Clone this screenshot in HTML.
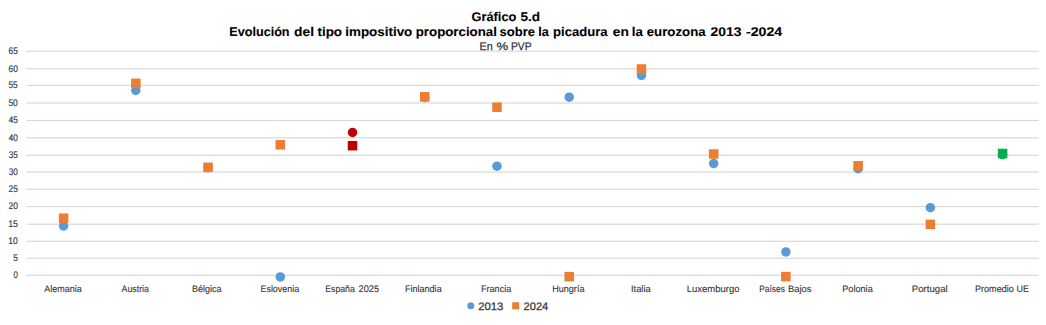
<!DOCTYPE html>
<html><head><meta charset="utf-8"><title>Gráfico 5.d</title>
<style>
html,body{margin:0;padding:0;background:#fff;width:1046px;height:325px;overflow:hidden}
svg{display:block}
text{font-family:"Liberation Sans",sans-serif;text-rendering:geometricPrecision}
.ax{font-size:9.6px;fill:#333;stroke:#333;stroke-width:0.15px}
.cat{font-size:9.5px;fill:#333;stroke:#333;stroke-width:0.1px}
.t1{font-size:12.6px;font-weight:bold;fill:#000;stroke:#000;stroke-width:0.1px}
.t2{font-size:11px;fill:#333;stroke:#333;stroke-width:0.25px}
.lg{font-size:10.8px;fill:#333;stroke:#333;stroke-width:0.25px}

</style></head><body>
<svg width="1046" height="325" viewBox="0 0 1046 325">
<rect width="1046" height="325" fill="#fff"/>
<rect x="26.5" y="274.70" width="1012.3" height="1.2" fill="#D9D9D9"/>
<rect x="26.5" y="257.60" width="1012.3" height="1.2" fill="#D9D9D9"/>
<rect x="26.5" y="240.70" width="1012.3" height="1.2" fill="#D9D9D9"/>
<rect x="26.5" y="223.60" width="1012.3" height="1.2" fill="#D9D9D9"/>
<rect x="26.5" y="206.00" width="1012.3" height="1.2" fill="#D9D9D9"/>
<rect x="26.5" y="188.70" width="1012.3" height="1.2" fill="#D9D9D9"/>
<rect x="26.5" y="171.50" width="1012.3" height="1.2" fill="#D9D9D9"/>
<rect x="26.5" y="154.70" width="1012.3" height="1.2" fill="#D9D9D9"/>
<rect x="26.5" y="137.20" width="1012.3" height="1.2" fill="#D9D9D9"/>
<rect x="26.5" y="119.90" width="1012.3" height="1.2" fill="#D9D9D9"/>
<rect x="26.5" y="102.40" width="1012.3" height="1.2" fill="#D9D9D9"/>
<rect x="26.5" y="84.80" width="1012.3" height="1.2" fill="#D9D9D9"/>
<rect x="26.5" y="68.20" width="1012.3" height="1.2" fill="#D9D9D9"/>
<rect x="26.5" y="50.60" width="1012.3" height="1.2" fill="#D9D9D9"/>
<text x="471.50" y="20.7" class="t1" textLength="44.84" lengthAdjust="spacingAndGlyphs">Gráfico</text>
<text x="520.50" y="20.7" class="t1" textLength="19.63" lengthAdjust="spacingAndGlyphs">5.d</text>
<text x="229.25" y="36.0" class="t1" textLength="60.34" lengthAdjust="spacingAndGlyphs">Evolución</text>
<text x="294.00" y="36.0" class="t1" textLength="19.98" lengthAdjust="spacingAndGlyphs">del</text>
<text x="317.50" y="36.0" class="t1" textLength="24.56" lengthAdjust="spacingAndGlyphs">tipo</text>
<text x="345.25" y="36.0" class="t1" textLength="67.07" lengthAdjust="spacingAndGlyphs">impositivo</text>
<text x="415.75" y="36.0" class="t1" textLength="81.10" lengthAdjust="spacingAndGlyphs">proporcional</text>
<text x="499.50" y="36.0" class="t1" textLength="35.43" lengthAdjust="spacingAndGlyphs">sobre</text>
<text x="538.25" y="36.0" class="t1" textLength="10.58" lengthAdjust="spacingAndGlyphs">la</text>
<text x="553.00" y="36.0" class="t1" textLength="54.65" lengthAdjust="spacingAndGlyphs">picadura</text>
<text x="612.75" y="36.0" class="t1" textLength="16.16" lengthAdjust="spacingAndGlyphs">en</text>
<text x="631.75" y="36.0" class="t1" textLength="11.06" lengthAdjust="spacingAndGlyphs">la</text>
<text x="646.75" y="36.0" class="t1" textLength="58.84" lengthAdjust="spacingAndGlyphs">eurozona</text>
<text x="710.50" y="36.0" class="t1" textLength="30.92" lengthAdjust="spacingAndGlyphs">2013</text>
<text x="746.00" y="36.0" class="t1" textLength="36.20" lengthAdjust="spacingAndGlyphs">-2024</text>
<text x="479.50" y="49.9" class="t2" textLength="13.24" lengthAdjust="spacingAndGlyphs">En</text>
<text x="496.50" y="49.9" class="t2" textLength="11.64" lengthAdjust="spacingAndGlyphs">%</text>
<text x="511.00" y="49.9" class="t2" textLength="20.45" lengthAdjust="spacingAndGlyphs">PVP</text>
<text x="44.25" y="291.7" class="cat" textLength="37.43" lengthAdjust="spacingAndGlyphs">Alemania</text>
<text x="121.50" y="291.7" class="cat" textLength="27.47" lengthAdjust="spacingAndGlyphs">Austria</text>
<text x="192.00" y="291.7" class="cat" textLength="29.66" lengthAdjust="spacingAndGlyphs">Bélgica</text>
<text x="260.50" y="291.7" class="cat" textLength="38.63" lengthAdjust="spacingAndGlyphs">Eslovenia</text>
<text x="325.25" y="291.7" class="cat" textLength="29.50" lengthAdjust="spacingAndGlyphs">España</text>
<text x="358.50" y="291.7" class="cat" textLength="20.61" lengthAdjust="spacingAndGlyphs">2025</text>
<text x="405.00" y="291.7" class="cat" textLength="36.66" lengthAdjust="spacingAndGlyphs">Finlandia</text>
<text x="481.00" y="291.7" class="cat" textLength="30.24" lengthAdjust="spacingAndGlyphs">Francia</text>
<text x="552.25" y="291.7" class="cat" textLength="32.19" lengthAdjust="spacingAndGlyphs">Hungría</text>
<text x="631.00" y="291.7" class="cat" textLength="19.65" lengthAdjust="spacingAndGlyphs">Italia</text>
<text x="686.75" y="291.7" class="cat" textLength="52.69" lengthAdjust="spacingAndGlyphs">Luxemburgo</text>
<text x="759.25" y="291.7" class="cat" textLength="25.65" lengthAdjust="spacingAndGlyphs">Países</text>
<text x="788.00" y="291.7" class="cat" textLength="23.36" lengthAdjust="spacingAndGlyphs">Bajos</text>
<text x="842.25" y="291.7" class="cat" textLength="30.49" lengthAdjust="spacingAndGlyphs">Polonia</text>
<text x="911.75" y="291.7" class="cat" textLength="35.95" lengthAdjust="spacingAndGlyphs">Portugal</text>
<text x="975.00" y="291.7" class="cat" textLength="38.77" lengthAdjust="spacingAndGlyphs">Promedio</text>
<text x="1016.50" y="291.7" class="cat" textLength="12.49" lengthAdjust="spacingAndGlyphs">UE</text>
<text x="478.25" y="309.8" class="lg" textLength="25.17" lengthAdjust="spacingAndGlyphs">2013</text>
<text x="523.50" y="309.8" class="lg" textLength="24.77" lengthAdjust="spacingAndGlyphs">2024</text>
<text x="13.50" y="278.00" class="ax" textLength="4.35" lengthAdjust="spacingAndGlyphs">0</text>
<text x="13.25" y="260.90" class="ax" textLength="4.67" lengthAdjust="spacingAndGlyphs">5</text>
<text x="8.25" y="244.00" class="ax" textLength="9.56" lengthAdjust="spacingAndGlyphs">10</text>
<text x="8.25" y="226.90" class="ax" textLength="9.64" lengthAdjust="spacingAndGlyphs">15</text>
<text x="8.50" y="209.30" class="ax" textLength="9.40" lengthAdjust="spacingAndGlyphs">20</text>
<text x="8.50" y="192.00" class="ax" textLength="9.37" lengthAdjust="spacingAndGlyphs">25</text>
<text x="8.75" y="174.80" class="ax" textLength="9.09" lengthAdjust="spacingAndGlyphs">30</text>
<text x="8.75" y="158.00" class="ax" textLength="9.08" lengthAdjust="spacingAndGlyphs">35</text>
<text x="8.75" y="140.50" class="ax" textLength="9.20" lengthAdjust="spacingAndGlyphs">40</text>
<text x="8.75" y="123.20" class="ax" textLength="9.13" lengthAdjust="spacingAndGlyphs">45</text>
<text x="8.50" y="105.70" class="ax" textLength="9.24" lengthAdjust="spacingAndGlyphs">50</text>
<text x="8.50" y="88.10" class="ax" textLength="9.24" lengthAdjust="spacingAndGlyphs">55</text>
<text x="8.50" y="71.50" class="ax" textLength="9.40" lengthAdjust="spacingAndGlyphs">60</text>
<text x="8.50" y="53.90" class="ax" textLength="9.37" lengthAdjust="spacingAndGlyphs">65</text>
<circle cx="63.60" cy="226.00" r="4.75" fill="#5B9BD5"/>
<rect x="58.85" y="213.45" width="9.5" height="9.5" fill="#ED7D31"/>
<circle cx="135.83" cy="90.50" r="4.75" fill="#5B9BD5"/>
<rect x="131.08" y="78.55" width="9.5" height="9.5" fill="#ED7D31"/>
<circle cx="208.06" cy="167.70" r="4.75" fill="#5B9BD5"/>
<rect x="203.31" y="162.55" width="9.5" height="9.5" fill="#ED7D31"/>
<circle cx="280.29" cy="276.90" r="4.75" fill="#5B9BD5"/>
<rect x="275.54" y="140.05" width="9.5" height="9.5" fill="#ED7D31"/>
<circle cx="352.52" cy="132.50" r="4.75" fill="#C00000"/>
<rect x="347.77" y="140.95" width="9.5" height="9.5" fill="#C00000"/>
<circle cx="424.75" cy="97.50" r="4.75" fill="#5B9BD5"/>
<rect x="420.00" y="92.05" width="9.5" height="9.5" fill="#ED7D31"/>
<circle cx="496.98" cy="166.20" r="4.75" fill="#5B9BD5"/>
<rect x="492.23" y="102.45" width="9.5" height="9.5" fill="#ED7D31"/>
<circle cx="569.21" cy="97.20" r="4.75" fill="#5B9BD5"/>
<rect x="564.46" y="271.95" width="9.5" height="9.5" fill="#ED7D31"/>
<circle cx="641.44" cy="75.50" r="4.75" fill="#5B9BD5"/>
<rect x="636.69" y="64.25" width="9.5" height="9.5" fill="#ED7D31"/>
<circle cx="713.67" cy="163.60" r="4.75" fill="#5B9BD5"/>
<rect x="708.92" y="149.25" width="9.5" height="9.5" fill="#ED7D31"/>
<circle cx="785.90" cy="251.90" r="4.75" fill="#5B9BD5"/>
<rect x="781.15" y="271.85" width="9.5" height="9.5" fill="#ED7D31"/>
<circle cx="858.13" cy="168.70" r="4.75" fill="#5B9BD5"/>
<rect x="853.38" y="161.05" width="9.5" height="9.5" fill="#ED7D31"/>
<circle cx="930.36" cy="207.70" r="4.75" fill="#5B9BD5"/>
<rect x="925.61" y="219.65" width="9.5" height="9.5" fill="#ED7D31"/>
<circle cx="1002.59" cy="154.60" r="4.75" fill="#00B050"/>
<rect x="997.84" y="148.75" width="9.5" height="9.5" fill="#00B050"/>
<circle cx="470.8" cy="305.8" r="3.5" fill="#5B9BD5"/>
<rect x="512.2" y="302.3" width="7" height="7" fill="#ED7D31"/>
</svg>
</body></html>
